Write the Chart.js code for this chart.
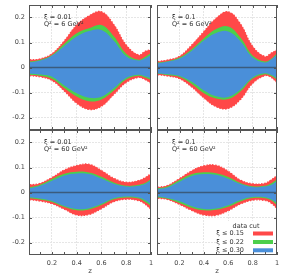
<!DOCTYPE html>
<html>
<head>
<meta charset="utf-8">
<script src="https://cdn.jsdelivr.net/npm/chart.js@4/dist/chart.umd.min.js"></script>
<style>
  body { margin: 0; background: #fff; width: 293px; height: 276px; position: relative; overflow: hidden; }
  .p { position: absolute; }
</style>
</head>
<body>
<div class="p" style="left:0;top:0;width:153px;height:132px"><canvas id="tl"></canvas></div>
<div class="p" style="left:150px;top:0;width:130px;height:132px"><canvas id="tr"></canvas></div>
<div class="p" style="left:0;top:125px;width:153px;height:151px"><canvas id="bl"></canvas></div>
<div class="p" style="left:150px;top:125px;width:130px;height:151px"><canvas id="br"></canvas></div>
<script>
// z grid shared by all panels
let z = [0.02, 0.1, 0.2, 0.3, 0.4, 0.5, 0.6, 0.7, 0.8, 0.9, 0.95, 1.0];

// xi = 0.01, Q2 = 6 GeV2
let tlRedHi   = [0.031, 0.034, 0.055, 0.107, 0.170, 0.207, 0.223, 0.172, 0.090, 0.050, 0.064, 0.072];
let tlRedLo   = [-0.033, -0.037, -0.052, -0.094, -0.143, -0.168, -0.155, -0.108, -0.060, -0.040, -0.048, -0.063];
let tlGreenHi = [0.024, 0.030, 0.050, 0.095, 0.137, 0.157, 0.170, 0.125, 0.055, 0.031, 0.042, 0.058];
let tlGreenLo = [-0.029, -0.033, -0.045, -0.082, -0.116, -0.135, -0.128, -0.092, -0.048, -0.033, -0.040, -0.050];
let tlBlueHi  = [0.021, 0.027, 0.047, 0.086, 0.124, 0.146, 0.150, 0.107, 0.045, 0.028, 0.036, 0.050];
let tlBlueLo  = [-0.025, -0.028, -0.037, -0.072, -0.103, -0.121, -0.117, -0.083, -0.042, -0.029, -0.035, -0.044];

// xi = 0.1, Q2 = 6 GeV2
let trRedHi   = [0.024, 0.030, 0.045, 0.090, 0.144, 0.197, 0.223, 0.175, 0.085, 0.044, 0.057, 0.071];
let trRedLo   = [-0.029, -0.034, -0.045, -0.078, -0.122, -0.157, -0.164, -0.128, -0.064, -0.033, -0.039, -0.060];
let trGreenHi = [0.020, 0.025, 0.040, 0.073, 0.117, 0.154, 0.164, 0.120, 0.048, 0.024, 0.034, 0.057];
let trGreenLo = [-0.025, -0.030, -0.038, -0.066, -0.103, -0.124, -0.126, -0.096, -0.045, -0.027, -0.033, -0.049];
let trBlueHi  = [0.017, 0.023, 0.036, 0.067, 0.108, 0.138, 0.144, 0.105, 0.040, 0.020, 0.031, 0.051];
let trBlueLo  = [-0.023, -0.027, -0.034, -0.057, -0.092, -0.115, -0.118, -0.088, -0.040, -0.023, -0.029, -0.043];

// xi = 0.01, Q2 = 60 GeV2
let blRedHi   = [0.031, 0.036, 0.060, 0.090, 0.108, 0.113, 0.088, 0.057, 0.041, 0.048, 0.059, 0.076];
let blRedLo   = [-0.029, -0.034, -0.045, -0.067, -0.090, -0.088, -0.065, -0.037, -0.027, -0.033, -0.046, -0.068];
let blGreenHi = [0.021, 0.030, 0.054, 0.075, 0.083, 0.080, 0.063, 0.040, 0.027, 0.031, 0.038, 0.053];
let blGreenLo = [-0.023, -0.028, -0.038, -0.058, -0.071, -0.068, -0.050, -0.027, -0.020, -0.024, -0.037, -0.054];
let blBlueHi  = [0.017, 0.026, 0.047, 0.068, 0.076, 0.074, 0.056, 0.035, 0.024, 0.027, 0.034, 0.048];
let blBlueLo  = [-0.019, -0.024, -0.034, -0.054, -0.066, -0.063, -0.045, -0.023, -0.016, -0.020, -0.030, -0.046];

// xi = 0.1, Q2 = 60 GeV2
let brRedHi   = [0.021, 0.028, 0.056, 0.087, 0.107, 0.109, 0.085, 0.050, 0.035, 0.037, 0.050, 0.068];
let brRedLo   = [-0.023, -0.028, -0.048, -0.072, -0.090, -0.091, -0.073, -0.046, -0.031, -0.032, -0.042, -0.064];
let brGreenHi = [0.017, 0.024, 0.050, 0.073, 0.081, 0.077, 0.062, 0.038, 0.025, 0.027, 0.036, 0.052];
let brGreenLo = [-0.020, -0.025, -0.042, -0.061, -0.071, -0.069, -0.057, -0.036, -0.022, -0.023, -0.031, -0.050];
let brBlueHi  = [0.013, 0.020, 0.043, 0.066, 0.074, 0.071, 0.055, 0.034, 0.022, 0.024, 0.030, 0.045];
let brBlueLo  = [-0.016, -0.022, -0.035, -0.055, -0.066, -0.064, -0.051, -0.030, -0.018, -0.019, -0.027, -0.041];

let cutLabels = ['ξ ≤ 0.15', 'ξ ≤ 0.22', 'ξ ≤ 0.30'];
let cutColors = ['#ff4848', '#4ccf4c', '#4a8fd9'];
let xTicks = [0.1, 0.2, 0.3, 0.4, 0.5, 0.6, 0.7, 0.8, 0.9, 1.0];
let xTickLabels = ['', '0.2', '', '0.4', '', '0.6', '', '0.8', '', '1'];
let yTicks = [-0.2, -0.1, 0, 0.1, 0.2];
let yTickLabels = ['-0.2', '-0.1', '0', '0.1', '0.2'];

const FONT = 'DejaVu Sans';
const pts = (ys) => z.map((x, i) => ({x: x, y: ys[i]}));

const frame = {
  id: 'frame',
  afterDatasetsDraw(chart, args, opts) {
    const {ctx, chartArea: a, scales} = chart;
    ctx.save();
    if (opts.legend) {
      ctx.fillStyle = '#fff';
      ctx.fillRect(a.right - 60, a.bottom - 34, 59, 33);
      ctx.font = '6.5px "' + FONT + '"';
      ctx.fillStyle = '#333';
      ctx.textBaseline = 'middle';
      ctx.textAlign = 'center';
      ctx.fillText('data cut', a.right - 31, a.bottom - 29);
      const rows = [21.5, 13, 4.7];
      cutLabels.forEach((lab, i) => {
        const y = a.bottom - rows[i];
        ctx.textAlign = 'right';
        ctx.fillStyle = '#333';
        ctx.fillText(lab, a.right - 33, y);
        ctx.fillStyle = cutColors[i];
        ctx.fillRect(a.right - 24, y - 2, 20, 4);
      });
    }
    ctx.strokeStyle = '#555';
    ctx.lineWidth = 1;
    ctx.strokeRect(a.left + 0.5, a.top + 0.5, a.width - 1, a.height - 1);
    ctx.beginPath();
    xTicks.forEach(v => {
      const px = Math.round(scales.x.getPixelForValue(v)) + 0.5;
      ctx.moveTo(px, a.bottom); ctx.lineTo(px, a.bottom - 3);
      ctx.moveTo(px, a.top); ctx.lineTo(px, a.top + 3);
    });
    yTicks.forEach(v => {
      const py = Math.round(scales.y.getPixelForValue(v)) + 0.5;
      ctx.moveTo(a.left, py); ctx.lineTo(a.left + 3, py);
      ctx.moveTo(a.right, py); ctx.lineTo(a.right - 3, py);
    });
    ctx.stroke();
    ctx.font = '6.5px "' + FONT + '"';
    ctx.fillStyle = '#333';
    ctx.textAlign = 'left';
    ctx.textBaseline = 'middle';
    ctx.fillText(opts.lines[0], a.left + 15, a.top + 12.7);
    ctx.fillText(opts.lines[1], a.left + 15, a.top + 19.7);
    ctx.restore();
  }
};

function band(hi, lo, k, idx) {
  const red = k === 0;
  return [
    {data: pts(hi), fill: {target: idx + 1}, backgroundColor: cutColors[k],
     borderColor: red ? cutColors[k] : 'transparent', borderWidth: red ? 1.2 : 0,
     borderDash: red ? [1.5, 1.5] : [], pointRadius: 0, tension: 0.4, order: 3 - k},
    {data: pts(lo), fill: false,
     borderColor: red ? cutColors[k] : 'transparent', borderWidth: red ? 1.2 : 0,
     borderDash: red ? [1.5, 1.5] : [], pointRadius: 0, tension: 0.4, order: 3 - k}
  ];
}

function noPad(s) {
  s.paddingTop = 0; s.paddingBottom = 0; s.paddingLeft = 0; s.paddingRight = 0;
}

function panel(id, bands, lines, showX, showY, legend) {
  const datasets = [];
  bands.forEach((b, k) => datasets.push(...band(b[0], b[1], k, datasets.length)));
  datasets.push({data: [{x: 0.015, y: 0}, {x: 1, y: 0}], borderColor: '#3b5b7d',
    borderWidth: 1.3, pointRadius: 0, fill: false, order: 0});
  new Chart(document.getElementById(id), {
    type: 'line',
    data: {datasets: datasets},
    options: {
      responsive: true,
      maintainAspectRatio: false,
      animation: false,
      layout: {padding: {left: showY ? 0 : 7, top: 5, right: showY ? 2 : 3, bottom: showX ? 0 : 2}},
      plugins: {legend: {display: false}, tooltip: {enabled: false},
        frame: {lines: lines, legend: legend}},
      scales: {
        x: {
          type: 'linear', min: 0.015, max: 1,
          afterBuildTicks: s => { s.ticks = xTicks.map(v => ({value: v})); },
          afterFit: s => { s.height = showX ? 21 : 0; noPad(s); },
          grid: {drawTicks: false, color: c => (xTickLabels[c.index] && c.index < 9) ? '#e6e6e6' : 'transparent'},
          border: {display: false, dash: [2, 1]},
          ticks: {display: showX, padding: 4, color: '#444', font: {family: FONT, size: 6.5},
            maxRotation: 0, autoSkip: false, callback: (v, i) => xTickLabels[i]},
          title: {display: showX, text: 'z', color: '#444', font: {family: FONT, size: 7}, padding: {top: 0, bottom: 1}}
        },
        y: {
          type: 'linear', min: -0.25, max: 0.25,
          afterBuildTicks: s => { s.ticks = yTicks.map(v => ({value: v})); },
          afterFit: s => { s.width = showY ? 29 : 0; noPad(s); },
          grid: {drawTicks: false, color: '#e6e6e6'},
          border: {display: false, dash: [2, 1]},
          ticks: {display: showY, padding: 4, color: '#444', font: {family: FONT, size: 6.5},
            callback: (v, i) => yTickLabels[i]}
        }
      }
    },
    plugins: [frame]
  });
}

panel('tl', [[tlRedHi, tlRedLo], [tlGreenHi, tlGreenLo], [tlBlueHi, tlBlueLo]],
  ['ξ = 0.01', 'Q² = 6 GeV²'], false, true, false);
panel('tr', [[trRedHi, trRedLo], [trGreenHi, trGreenLo], [trBlueHi, trBlueLo]],
  ['ξ = 0.1', 'Q² = 6 GeV²'], false, false, false);
panel('bl', [[blRedHi, blRedLo], [blGreenHi, blGreenLo], [blBlueHi, blBlueLo]],
  ['ξ = 0.01', 'Q² = 60 GeV²'], true, true, false);
panel('br', [[brRedHi, brRedLo], [brGreenHi, brGreenLo], [brBlueHi, brBlueLo]],
  ['ξ = 0.1', 'Q² = 60 GeV²'], true, false, true);
</script>
</body>
</html>
